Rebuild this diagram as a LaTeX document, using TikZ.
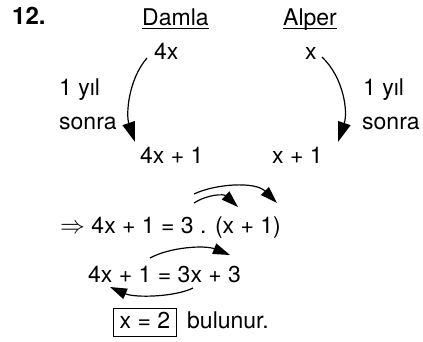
\documentclass[tikz,border=0pt]{standalone}
\usepackage{fontspec}
\setmainfont{TeX Gyre Heros}
\usetikzlibrary{arrows.meta}
\tikzset{
  txt/.style={inner sep=0pt, anchor=base west, font=\fontsize{23}{28}\selectfont},
  arr/.style={line width=1.2pt, -{Triangle[length=20pt,width=13pt]}},
  sarr/.style={line width=1.2pt, -{Triangle[length=17pt,width=11pt]}},
  uline/.style={line width=1pt}
}
\begin{document}
\begin{tikzpicture}[x=1pt,y=-1pt]
\useasboundingbox (0,0) rectangle (423,341);
% headings
\node[txt, font=\fontsize{24}{28}\selectfont\bfseries] (num) at (12,24) {12.};
\node[txt] (damla) at (142,25) {Damla};
\node[txt] (alper) at (283,25) {Alper};
\draw[uline] ([yshift=-3pt]damla.base west) -- ([yshift=-3pt]damla.base east);
\draw[uline] ([yshift=-3pt]alper.base west) -- ([yshift=-3pt]alper.base east);
% ages
\node[txt] (d0) at (154,59) {4x};
\node[txt] (a0) at (305,59) {x};
\node[txt] (d1) at (140,163) {4x + 1};
\node[txt] (a1) at (272,163) {x + 1};
% side labels
\node[txt] (ly) at (59,95) {1 yıl};
\node[txt] (ls) at (59,129) {sonra};
\node[txt] (ry) at (363,95) {1 yıl};
\node[txt] (rs) at (362,129) {sonra};
% top arrows
\coordinate (ds) at (147,58);
\coordinate (de) at (135,142);
\coordinate (as) at (322,57);
\coordinate (ae) at (338,142);
\draw[arr] (ds) .. controls (128,80) and (126,115) .. (de);
\draw[arr] (as) .. controls (344,78) and (348,112) .. (ae);
% equation 1
\node[txt] (eq1) at (60,233) {$\Rightarrow$ 4x + 1 = 3 . (x + 1)};
\coordinate (s1) at (194,203);
\coordinate (e1) at (238,207);
\coordinate (s2) at (194,194);
\coordinate (e2) at (277,203);
\draw[sarr] (s1) .. controls (208,194) and (224,194) .. (e1);
\draw[sarr] (s2) .. controls (215,184) and (255,181) .. (e2);
% equation 2
\node[txt] (eq2) at (88,282) {4x + 1 = 3x + 3};
\coordinate (s3) at (150,258);
\coordinate (e3) at (230,255);
\coordinate (s4) at (193,288);
\coordinate (e4) at (110,287);
\draw[sarr] (s3) .. controls (170,247) and (205,245) .. (e3);
\draw[sarr] (s4) .. controls (175,297) and (135,298) .. (e4);
% result
\node[txt, anchor=base, draw, line width=0.9pt, text height=19.5pt, text depth=8pt, inner xsep=6.5pt, inner ysep=0pt] (res) at (145,328) {x = 2};
\node[txt] (bul) at (187,328) {bulunur.};
\end{tikzpicture}
\end{document}
